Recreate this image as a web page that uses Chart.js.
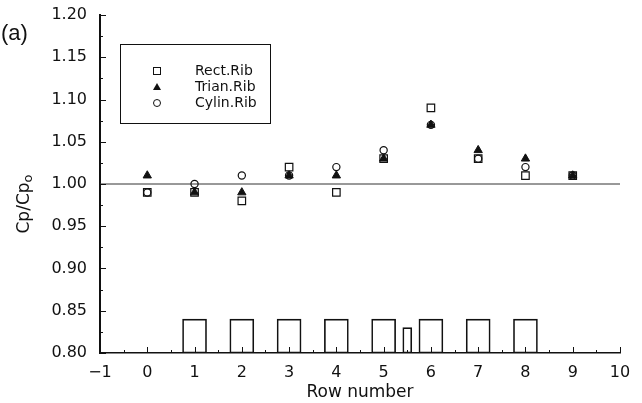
<!DOCTYPE html>
<html>
<head>
<meta charset="utf-8">
<script src="https://cdn.jsdelivr.net/npm/chart.js@4"></script>
<style>
  html, body { margin: 0; padding: 0; background: #fff; }
  #wrap { width: 642px; height: 403px; }
</style>
</head>
<body>
<div id="wrap"><canvas id="c"></canvas></div>
<script>
// data
const rows = [0, 1, 2, 3, 4, 5, 6, 7, 8, 9];
const rectRib = [0.99, 0.99, 0.98, 1.02, 0.99, 1.03, 1.09, 1.03, 1.01, 1.01];
const trianRib = [1.01, 0.99, 0.99, 1.01, 1.01, 1.03, 1.07, 1.04, 1.03, 1.01];
const cylinRib = [0.99, 1.00, 1.01, 1.01, 1.02, 1.04, 1.07, 1.03, 1.02, 1.01];

// rib sketch along the bottom
const ribPos = [1, 2, 3, 4, 5, 6, 7, 8];
const ribTop = [0.84, 0.84, 0.84, 0.84, 0.84, 0.84, 0.84, 0.84];
const smallRibPos = [5.5];
const smallRibTop = [0.83];
const ribBase = 0.80;

const refX = [-1, 10];
const refY = [1.00, 1.00];

const xTicks = [-1, 0, 1, 2, 3, 4, 5, 6, 7, 8, 9, 10];
const yTicks = [0.80, 0.85, 0.90, 0.95, 1.00, 1.05, 1.10, 1.15, 1.20];

const seriesNames = ["Rect.Rib", "Trian.Rib", "Cylin.Rib"];

const FONT = "'DejaVu Sans', 'Liberation Sans', sans-serif";
const INK = "#111";

function pts(xs, ys) {
    return xs.map((x, i) => ({ x: x, y: ys[i] }));
}

// ticks drawn inward, plus labels that Chart.js can't place on its own
const decor = {
    id: "decor",
    afterDraw(chart) {
        const ctx = chart.ctx;
        const xs = chart.scales.x, ys = chart.scales.y;
        const a = chart.chartArea;
        ctx.save();
        ctx.strokeStyle = INK;
        ctx.lineWidth = 1;
        ctx.beginPath();
        for (let v = -1; v <= 10.001; v += 0.5) {
            const px = Math.round(xs.getPixelForValue(v)) + 0.5;
            const len = Math.abs(v - Math.round(v)) < 0.01 ? 6 : 3;
            ctx.moveTo(px, a.bottom);
            ctx.lineTo(px, a.bottom - len);
        }
        for (let v = 0.80; v <= 1.2001; v += 0.025) {
            const py = Math.round(ys.getPixelForValue(v)) + 0.5;
            const major = Math.abs(v * 20 - Math.round(v * 20)) < 0.01;
            ctx.moveTo(a.left, py);
            ctx.lineTo(a.left + (major ? 6 : 3), py);
        }
        ctx.stroke();

        // (a)
        ctx.fillStyle = INK;
        ctx.font = "22px 'Liberation Sans', Arial, sans-serif";
        ctx.textAlign = "left";
        ctx.textBaseline = "middle";
        ctx.fillText("(a)", 1, 34);

        // y title Cp/Cp_o
        ctx.save();
        ctx.translate(25, 204);
        ctx.rotate(-Math.PI / 2);
        ctx.font = "17px " + FONT;
        ctx.textBaseline = "middle";
        const main = "Cp/Cp";
        const w1 = ctx.measureText(main).width;
        ctx.font = "13px " + FONT;
        const w2 = ctx.measureText("o").width;
        const x0 = -(w1 + w2) / 2;
        ctx.font = "17px " + FONT;
        ctx.fillText(main, x0, 0);
        ctx.font = "13px " + FONT;
        ctx.fillText("o", x0 + w1, 4);
        ctx.restore();

        // legend box
        const bx = a.left + 20, by = a.top + 29, bw = 150, bh = 79;
        ctx.lineWidth = 1;
        ctx.strokeRect(bx + 0.5, by + 0.5, bw, bh);
        const rowsY = [by + 27, by + 43, by + 59];
        const mx = bx + 37;
        ctx.font = "14px " + FONT;
        ctx.textBaseline = "middle";
        // square
        ctx.strokeRect(mx - 3.5, rowsY[0] - 3.5, 7, 7);
        // triangle
        ctx.beginPath();
        ctx.moveTo(mx, rowsY[1] - 4);
        ctx.lineTo(mx + 4, rowsY[1] + 3);
        ctx.lineTo(mx - 4, rowsY[1] + 3);
        ctx.closePath();
        ctx.fill();
        // circle
        ctx.beginPath();
        ctx.arc(mx, rowsY[2], 3.5, 0, Math.PI * 2);
        ctx.stroke();
        seriesNames.forEach((n, i) => ctx.fillText(n, bx + 75, rowsY[i]));
        ctx.restore();
    }
};

new Chart(document.getElementById("c"), {
    type: "scatter",
    data: {
        datasets: [
            {
                type: "bar",
                label: "ribs",
                data: ribPos.map((x, i) => ({ x: x, y: [ribBase, ribTop[i]] })),
                backgroundColor: "rgba(0,0,0,0)",
                borderColor: INK,
                borderWidth: 1,
                borderSkipped: false,
                barThickness: 24,
                grouped: false,
                order: 5
            },
            {
                type: "bar",
                label: "small rib",
                data: smallRibPos.map((x, i) => ({ x: x, y: [ribBase, smallRibTop[i]] })),
                backgroundColor: "rgba(0,0,0,0)",
                borderColor: INK,
                borderWidth: 1,
                borderSkipped: false,
                barThickness: 9,
                grouped: false,
                order: 5
            },
            {
                type: "line",
                label: "ref",
                data: pts(refX, refY),
                borderColor: "#333",
                borderWidth: 1,
                pointRadius: 0,
                fill: false,
                order: 4
            },
            {
                label: seriesNames[0],
                data: pts(rows, rectRib),
                pointStyle: "rect",
                pointRadius: 5.3,
                pointBorderColor: INK,
                pointBackgroundColor: "#fff",
                pointBorderWidth: 1.2,
                order: 3
            },
            {
                label: seriesNames[2],
                data: pts(rows, cylinRib),
                pointStyle: "circle",
                pointRadius: 3.6,
                pointBorderColor: INK,
                pointBackgroundColor: "rgba(0,0,0,0)",
                pointBorderWidth: 1.2,
                order: 2
            },
            {
                label: seriesNames[1],
                data: pts(rows, trianRib),
                pointStyle: "triangle",
                pointRadius: 4.8,
                pointBorderColor: INK,
                pointBackgroundColor: INK,
                pointBorderWidth: 1,
                order: 1
            }
        ]
    },
    options: {
        responsive: true,
        maintainAspectRatio: false,
        animation: false,
        layout: { padding: { top: 15, right: 22, left: 0, bottom: 0 } },
        plugins: {
            legend: { display: false },
            tooltip: { enabled: false }
        },
        scales: {
            x: {
                type: "linear",
                min: -1,
                max: 10,
                offset: false,
                grid: { display: false, offset: false },
                border: { display: true, color: INK, width: 1.5 },
                afterBuildTicks: (s) => { s.ticks = xTicks.map(v => ({ value: v })); },
                afterFit: (s) => { s.height = 50; },
                ticks: {
                    color: INK,
                    font: { family: FONT, size: 16 },
                    padding: 2,
                    maxRotation: 0,
                    callback: (v) => v < 0 ? "\u2212" + Math.abs(v) : String(v)
                },
                title: {
                    display: true,
                    text: "Row number",
                    color: INK,
                    font: { family: FONT, size: 17 },
                    padding: { top: 0, bottom: 0 }
                }
            },
            y: {
                type: "linear",
                min: 0.80,
                max: 1.20,
                grid: { display: false },
                border: { display: true, color: INK, width: 2 },
                afterBuildTicks: (s) => { s.ticks = yTicks.map(v => ({ value: v })); },
                afterFit: (s) => { s.width = 100; },
                ticks: {
                    color: INK,
                    font: { family: FONT, size: 16 },
                    padding: 5,
                    callback: (v) => Number(v).toFixed(2)
                }
            }
        }
    },
    plugins: [decor]
});
</script>
</body>
</html>
